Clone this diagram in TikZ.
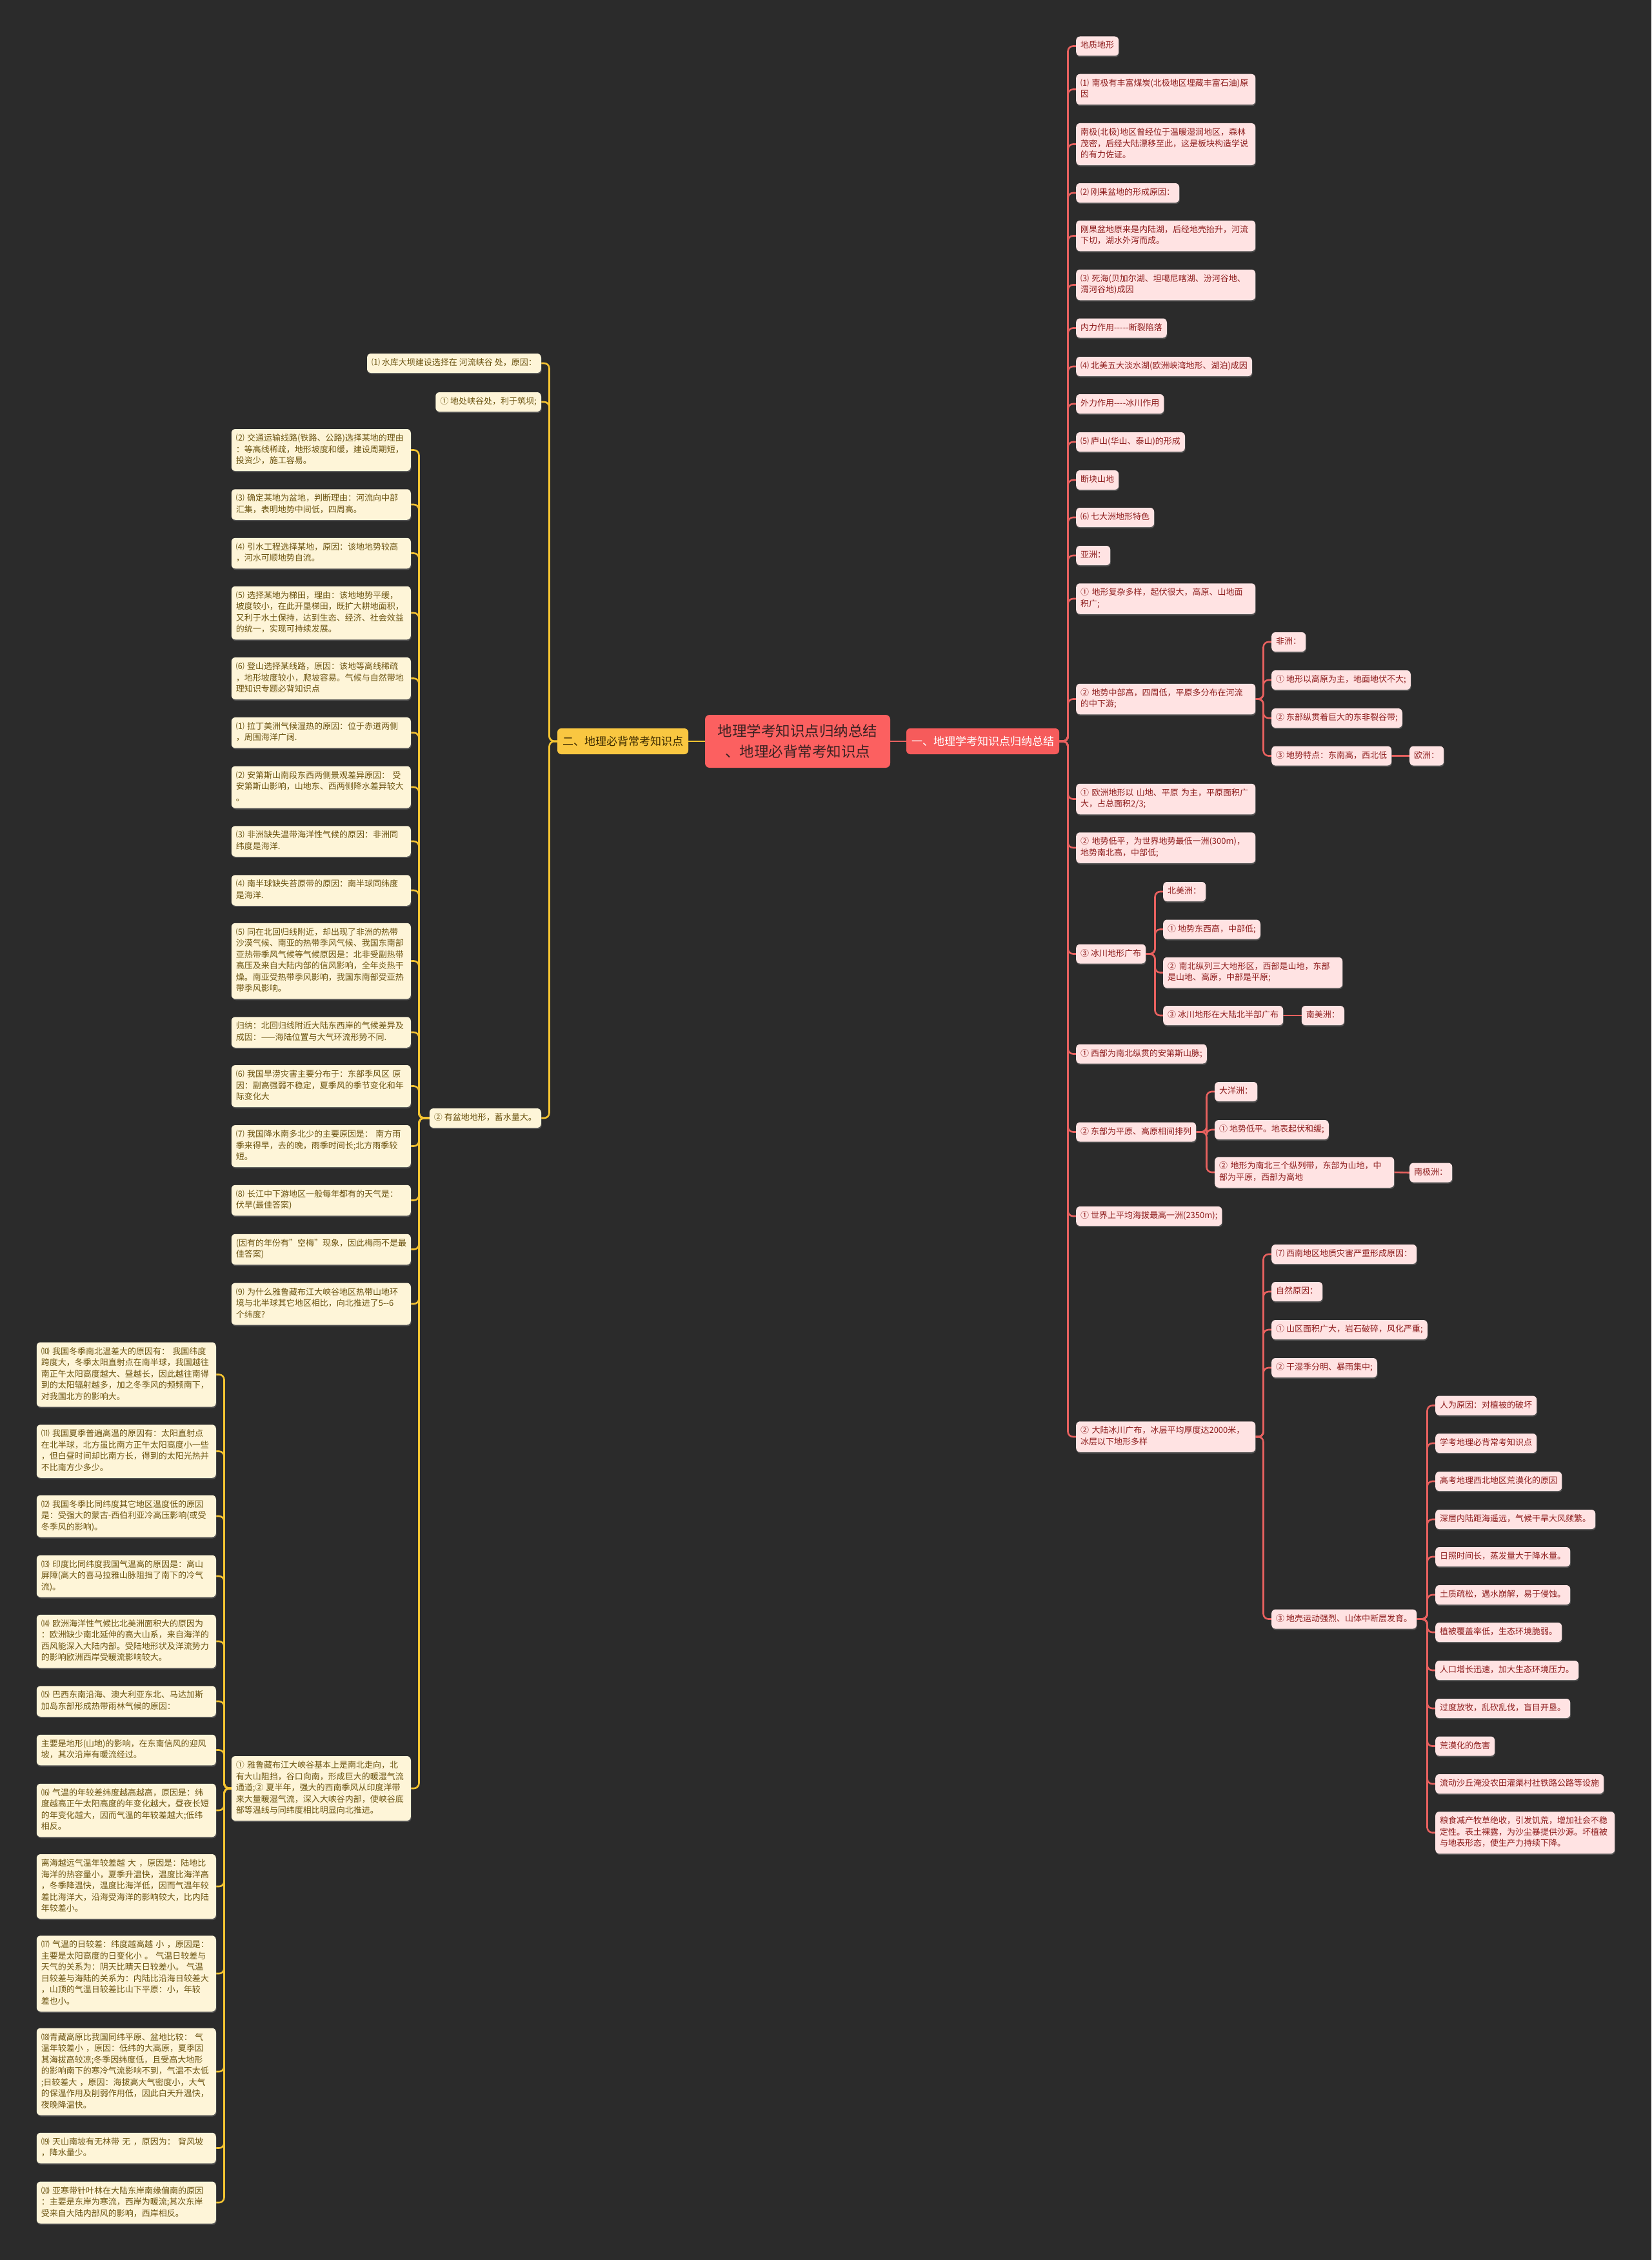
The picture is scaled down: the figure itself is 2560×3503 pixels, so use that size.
\documentclass[tikz,border=0pt]{standalone}
\usepackage{fontspec}
\setmainfont{Noto Sans CJK SC}
\usetikzlibrary{shadows}
\definecolor{bgc}{HTML}{2B2B2B}
\definecolor{rfill}{HTML}{FFE3E3}
\definecolor{rtext}{HTML}{8E1C1C}
\definecolor{rline}{HTML}{E8615F}
\definecolor{lfill}{HTML}{FEF5D8}
\definecolor{ltext}{HTML}{6B5310}
\definecolor{lline}{HTML}{F5C431}
\definecolor{cfill}{HTML}{FC6060}
\definecolor{ctext}{HTML}{3A2222}
\definecolor{onefill}{HTML}{F65B5B}
\definecolor{twofill}{HTML}{F9C741}
\definecolor{twotext}{HTML}{3B2A00}
\pgfdeclarelayer{bglayer}
\pgfsetlayers{bglayer,main}
\newcommand\rlk[2]{\draw[rl] (#1.east) -- ([xshift=-12.5pt]#2.west |- #1.east) |- (#2.west);}
\newcommand\llk[2]{\draw[ll] (#1.west) -- ([xshift=12.5pt]#2.east |- #1.west) |- (#2.east);}
\begin{document}
\begin{tikzpicture}[x=1pt,y=-1pt,
  box/.style={rounded corners=6pt, inner xsep=7pt, inner ysep=6.25pt,
    font=\fontsize{13}{17.5}\selectfont, align=left,
    execute at begin node=\strut, execute at end node=\strut,
    drop shadow={opacity=0.45, shadow xshift=0.8pt, shadow yshift=-2pt}},
  rn/.style={box, fill=rfill, text=rtext, anchor=west},
  ln/.style={box, fill=lfill, text=ltext, anchor=east},
  w/.style={text width=264pt},
  rl/.style={draw=rline, line width=2.6pt, rounded corners=8pt},
  ll/.style={draw=lline, line width=2.6pt, rounded corners=8pt}]
\useasboundingbox (0,0) rectangle (2560,3503);

% ---------- centre ----------
\node[rounded corners=7pt, fill=cfill, text=ctext, align=center,
  minimum width=287pt, minimum height=82pt, inner sep=4pt,
  font=\fontsize{22.5}{32}\selectfont] (ctr) at (1236.5,1149)
  {地理学考知识点归纳总结\\、地理必背常考知识点};
\node[rounded corners=6pt, fill=onefill, text=white, minimum height=40pt,
  inner xsep=8pt, font=\fontsize{17}{20}\selectfont] (one) at (1523.5,1149)
  {一、地理学考知识点归纳总结};
\node[rounded corners=6pt, fill=twofill, text=twotext, minimum height=40pt,
  inner xsep=8pt, font=\fontsize{17}{20}\selectfont] (two) at (965.5,1149)
  {二、地理必背常考知识点};

% ---------- right side ----------
\node[rn] (a1) at (1668,71.5) {地质地形};
\node[rn,w] (a2) at (1668,138.5) {⑴~南极有丰富煤炭(北极地区埋藏丰富石油)原\\因};
\node[rn,w] (a3) at (1668,223.5) {南极(北极)地区曾经位于温暖湿润地区，森林\\茂密，后经大陆漂移至此，这是板块构造学说\\的有力佐证。};
\node[rn] (a4) at (1668,299) {⑵ 刚果盆地的形成原因：};
\node[rn,w] (a5) at (1668,365.5) {刚果盆地原来是内陆湖，后经地壳抬升，河流\\下切，湖水外泻而成。};
\node[rn,w] (a6) at (1668,441.5) {⑶~死海(贝加尔湖、坦噶尼喀湖、汾河谷地、\\渭河谷地)成因};
\node[rn] (a7) at (1668,508.5) {内力作用-{}-{}-{}-{}-断裂陷落};
\node[rn] (a8) at (1668,568) {⑷ 北美五大淡水湖(欧洲峡湾地形、湖泊)成因};
\node[rn] (a9) at (1668,626) {外力作用-{}-{}-{}-冰川作用};
\node[rn] (a10) at (1668,685) {⑸ 庐山(华山、泰山)的形成};
\node[rn] (a11) at (1668,744) {断块山地};
\node[rn] (a12) at (1668,802) {⑹ 七大洲地形特色};
\node[rn] (a13) at (1668,861) {亚洲：};
\node[rn,w] (a14) at (1668,928) {①~地形复杂多样，起伏很大，高原、山地面\\积广;};
\node[rn,w] (a15) at (1668,1083.5) {②~地势中部高，四周低，平原多分布在河流\\的中下游;};
\node[rn,w] (a16) at (1668,1238.5) {①~欧洲地形以~山地、平原~为主，平原面积广\\大，占总面积2/3;};
\node[rn,w] (a17) at (1668,1314) {②~地势低平，为世界地势最低一洲(300m)，\\地势南北高，中部低;};
\node[rn] (a18) at (1668,1478.5) {③ 冰川地形广布};
\node[rn] (a19) at (1668,1633.5) {① 西部为南北纵贯的安第斯山脉;};
\node[rn] (a20) at (1668,1754.5) {② 东部为平原、高原相间排列};
\node[rn] (a21) at (1668,1885) {① 世界上平均海拔最高一洲(2350m);};
\node[rn,w] (a22) at (1668,2227) {②~大陆冰川广布，冰层平均厚度达2000米，\\冰层以下地形多样};

\node[rn] (b1) at (1971,995) {非洲：};
\node[rn] (b2) at (1971,1054) {① 地形以高原为主，地面地伏不大;};
\node[rn] (b3) at (1971,1113) {② 东部纵贯着巨大的东非裂谷带;};
\node[rn] (b4) at (1971,1171.5) {③ 地势特点：东南高，西北低};
\node[rn] (b5) at (2185,1171.5) {欧洲：};

\node[rn] (c1) at (1803,1382) {北美洲：};
\node[rn] (c2) at (1803,1440.5) {① 地势东西高，中部低;};
\node[rn,w] (c3) at (1803,1507.5) {②~南北纵列三大地形区，西部是山地，东部\\是山地、高原，中部是平原;};
\node[rn] (c4) at (1803,1574) {③ 冰川地形在大陆北半部广布};
\node[rn] (c5) at (2017.6,1574) {南美洲：};

\node[rn] (d1) at (1883,1692) {大洋洲：};
\node[rn] (d2) at (1883,1751) {① 地势低平。地表起伏和缓;};
\node[rn,w] (d3) at (1883,1817) {②~地形为南北三个纵列带，东部为山地，中\\部为平原，西部为高地};
\node[rn] (d4) at (2185,1817.5) {南极洲：};

\node[rn] (e1) at (1971,1944) {⑺ 西南地区地质灾害严重形成原因：};
\node[rn] (e2) at (1971,2002) {自然原因：};
\node[rn] (e3) at (1971,2061) {① 山区面积广大，岩石破碎，风化严重;};
\node[rn] (e4) at (1971,2120) {② 干湿季分明、暴雨集中;};
\node[rn] (e5) at (1971,2509.5) {③ 地壳运动强烈、山体中断层发育。};

\node[rn] (f1) at (2225,2178.5) {人为原因：对植被的破坏};
\node[rn] (f2) at (2225,2237) {学考地理必背常考知识点};
\node[rn] (f3) at (2225,2296) {高考地理西北地区荒漠化的原因};
\node[rn] (f4) at (2225,2355) {深居内陆距海遥远，气候干旱大风频繁。};
\node[rn] (f5) at (2225,2413) {日照时间长，蒸发量大于降水量。};
\node[rn] (f6) at (2225,2472) {土质疏松，遇水崩解，易于侵蚀。};
\node[rn] (f7) at (2225,2530) {植被覆盖率低，生态环境脆弱。};
\node[rn] (f8) at (2225,2589) {人口增长迅速，加大生态环境压力。};
\node[rn] (f9) at (2225,2648) {过度放牧，乱砍乱伐，盲目开垦。};
\node[rn] (f10) at (2225,2706.5) {荒漠化的危害};
\node[rn] (f11) at (2225,2765) {流动沙丘淹没农田灌渠村社铁路公路等设施};
\node[rn,w] (f12) at (2225,2840.5) {粮食减产牧草绝收，引发饥荒，增加社会不稳\\定性。表土裸露，为沙尘暴提供沙源。坏植被\\与地表形态，使生产力持续下降。};

% ---------- left side ----------
\node[ln] (g1) at (839,563) {⑴ 水库大坝建设选择在 河流峡谷 处，原因：};
\node[ln] (g2) at (839,623) {① 地处峡谷处，利于筑坝;};
\node[ln] (g3) at (839,1733) {② 有盆地地形，蓄水量大。};

\node[ln,w] (h1) at (637,697.5) {⑵~交通运输线路(铁路、公路)选择某地的理由\\：等高线稀疏，地形坡度和缓，建设周期短，\\投资少，施工容易。};
\node[ln,w] (h2) at (637,782) {⑶~确定某地为盆地，判断理由：河流向中部\\汇集，表明地势中间低，四周高。};
\node[ln,w] (h3) at (637,857.5) {⑷~引水工程选择某地，原因：该地地势较高\\，河水可顺地势自流。};
\node[ln,w] (h4) at (637,950) {⑸~选择某地为梯田，理由：该地地势平缓，\\坡度较小，在此开垦梯田，既扩大耕地面积，\\又利于水土保持，达到生态、经济、社会效益\\的统一，实现可持续发展。};
\node[ln,w] (h5) at (637,1051.5) {⑹~登山选择某线路，原因：该地等高线稀疏\\，地形坡度较小，爬坡容易。气候与自然带地\\理知识专题必背知识点};
\node[ln,w] (h6) at (637,1135.7) {⑴~拉丁美洲气候湿热的原因：位于赤道两侧\\，周围海洋广阔.};
\node[ln,w] (h7) at (637,1220) {⑵~安第斯山南段东西两侧景观差异原因：~受\\安第斯山影响，山地东、西两侧降水差异较大\\。};
\node[ln,w] (h8) at (637,1304) {⑶~非洲缺失温带海洋性气候的原因：非洲同\\纬度是海洋.};
\node[ln,w] (h9) at (637,1380) {⑷~南半球缺失苔原带的原因：南半球同纬度\\是海洋.};
\node[ln,w] (h10) at (637,1489.5) {⑸~同在北回归线附近，却出现了非洲的热带\\沙漠气候、南亚的热带季风气候、我国东南部\\亚热带季风气候等气候原因是：北非受副热带\\高压及来自大陆内部的信风影响，全年炎热干\\燥。南亚受热带季风影响，我国东南部受亚热\\带季风影响。};
\node[ln,w] (h11) at (637,1600) {归纳：北回归线附近大陆东西岸的气候差异及\\成因：——海陆位置与大气环流形势不同.};
\node[ln,w] (h12) at (637,1683.5) {⑹~我国旱涝灾害主要分布于：东部季风区~原\\因：副高强弱不稳定，夏季风的季节变化和年\\际变化大};
\node[ln,w] (h13) at (637,1776.5) {⑺~我国降水南多北少的主要原因是：~南方雨\\季来得早，去的晚，雨季时间长;北方雨季较\\短。};
\node[ln,w] (h14) at (637,1860.5) {⑻~长江中下游地区一般每年都有的天气是：\\伏旱(最佳答案)};
\node[ln,w] (h15) at (637,1936.5) {(因有的年份有"空梅"现象，因此梅雨不是最\\佳答案)};
\node[ln,w] (h16) at (637,2021) {⑼~为什么雅鲁藏布江大峡谷地区热带山地环\\境与北半球其它地区相比，向北推进了5-{}-6\\个纬度?};
\node[ln,w] (h17) at (637,2772) {①~雅鲁藏布江大峡谷基本上是南北走向，北\\有大山阻挡，谷口向南，形成巨大的暖湿气流\\通道;②~夏半年，强大的西南季风从印度洋带\\来大量暖湿气流，深入大峡谷内部，使峡谷底\\部等温线与同纬度相比明显向北推进。};

\node[ln,w] (k1) at (335,2130.5) {⑽~我国冬季南北温差大的原因有：~我国纬度\\跨度大，冬季太阳直射点在南半球，我国越往\\南正午太阳高度越大、昼越长，因此越往南得\\到的太阳辐射越多，加之冬季风的频频南下，\\对我国北方的影响大。};
\node[ln,w] (k2) at (335,2249.5) {⑾~我国夏季普遍高温的原因有：太阳直射点\\在北半球，北方虽比南方正午太阳高度小一些\\，但白昼时间却比南方长，得到的太阳光热并\\不比南方少多少。};
\node[ln,w] (k3) at (335,2350) {⑿~我国冬季比同纬度其它地区温度低的原因\\是：受强大的蒙古-西伯利亚冷高压影响(或受\\冬季风的影响)。};
\node[ln,w] (k4) at (335,2443) {⒀~印度比同纬度我国气温高的原因是：高山\\屏障(高大的喜马拉雅山脉阻挡了南下的冷气\\流)。};
\node[ln,w] (k5) at (335,2544) {⒁~欧洲海洋性气候比北美洲面积大的原因为\\：欧洲缺少南北延伸的高大山系，来自海洋的\\西风能深入大陆内部。受陆地形状及洋流势力\\的影响欧洲西岸受暖流影响较大。};
\node[ln,w] (k6) at (335,2637) {⒂~巴西东南沿海、澳大利亚东北、马达加斯\\加岛东部形成热带雨林气候的原因：};
\node[ln,w] (k7) at (335,2712.5) {主要是地形(山地)的影响，在东南信风的迎风\\坡，其次沿岸有暖流经过。};
\node[ln,w] (k8) at (335,2806) {⒃~气温的年较差纬度越高越高，原因是：纬\\度越高正午太阳高度的年变化越大，昼夜长短\\的年变化越大，因而气温的年较差越大;低纬\\相反。};
\node[ln,w] (k9) at (335,2924) {离海越远气温年较差越~大~，原因是：陆地比\\海洋的热容量小，夏季升温快，温度比海洋高\\，冬季降温快，温度比海洋低，因而气温年较\\差比海洋大，沿海受海洋的影响较大，比内陆\\年较差小。};
\node[ln,w] (k10) at (335,3059) {⒄~气温的日较差：纬度越高越~小~，原因是：\\主要是太阳高度的日变化小~。~气温日较差与\\天气的关系为：阴天比晴天日较差小。~气温\\日较差与海陆的关系为：内陆比沿海日较差大\\，山顶的气温日较差比山下平原：小，年较\\差也小。};
\node[ln,w] (k11) at (335,3211) {⒅青藏高原比我国同纬平原、盆地比较：~气\\温年较差小~，原因：低纬的大高原，夏季因\\其海拔高较凉;冬季因纬度低，且受高大地形\\的影响南下的寒冷气流影响不到，气温不太低\\;日较差大~，原因：海拔高大气密度小，大气\\的保温作用及削弱作用低，因此白天升温快，\\夜晚降温快。};
\node[ln,w] (k12) at (335,3329.5) {⒆~天山南坡有无林带~无~，原因为：~背风坡\\，降水量少。};
\node[ln,w] (k13) at (335,3414) {⒇~亚寒带针叶林在大陆东岸南缘偏南的原因\\：主要是东岸为寒流，西岸为暖流;其次东岸\\受来自大陆内部风的影响，西岸相反。};

% ---------- connectors ----------
\begin{pgfonlayer}{bglayer}
\fill[bgc] (0,0) rectangle (2560,3503);
\draw[rl] (ctr.east) -- (one.west);
\draw[ll] (ctr.west) -- (two.east);
\foreach \c in {a1,a2,a3,a4,a5,a6,a7,a8,a9,a10,a11,a12,a13,a14,a15,a16,a17,a18,a19,a20,a21,a22} {\rlk{one}{\c}}
\foreach \c in {b1,b2,b3,b4} {\rlk{a15}{\c}}
\draw[rl] (b4.east) -- (b5.west);
\foreach \c in {c1,c2,c3,c4} {\rlk{a18}{\c}}
\draw[rl] (c4.east) -- (c5.west);
\foreach \c in {d1,d2,d3} {\rlk{a20}{\c}}
\draw[rl] (d3.east) -- (d4.west);
\foreach \c in {e1,e2,e3,e4,e5} {\rlk{a22}{\c}}
\foreach \c in {f1,f2,f3,f4,f5,f6,f7,f8,f9,f10,f11,f12} {\rlk{e5}{\c}}
\foreach \c in {g1,g2,g3} {\llk{two}{\c}}
\foreach \c in {h1,h2,h3,h4,h5,h6,h7,h8,h9,h10,h11,h12,h13,h14,h15,h16,h17} {\llk{g3}{\c}}
\foreach \c in {k1,k2,k3,k4,k5,k6,k7,k8,k9,k10,k11,k12,k13} {\llk{h17}{\c}}
\end{pgfonlayer}
\end{tikzpicture}
\end{document}
